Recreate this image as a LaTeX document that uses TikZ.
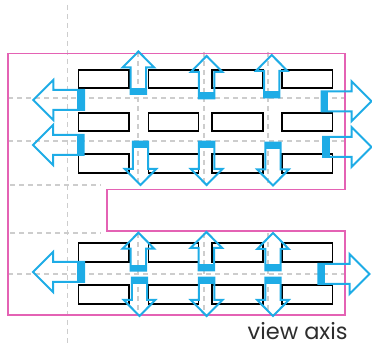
\documentclass[tikz,border=0pt]{standalone}
\usepackage{fontspec}
\setmainfont{Poppins}
\definecolor{arrblue}{RGB}{30,172,230}
\definecolor{pinkln}{RGB}{228,98,180}
\definecolor{gridgray}{RGB}{205,205,205}
\definecolor{txtgray}{RGB}{45,45,45}
\tikzset{
  gridln/.style={draw=gridgray,line width=1.2pt,dash pattern=on 5pt off 4pt},
  blockbox/.style={draw=black,line width=1.8pt},
  outline/.style={draw=pinkln,line width=1.4pt},
  arr/.style={draw=arrblue,line width=2pt,line join=miter},
  arrbar/.style={fill=arrblue},
}
% vertical block arrow: cx, base y, tip y, dir (+1 down, -1 up)
\newcommand{\myVarrow}[4]{%
  \draw[arr] ({#1-7.7},#2) -- ({#1-7.7},{#3-(#4)*16}) -- ({#1-15.8},{#3-(#4)*16}) -- (#1,#3)
    -- ({#1+15.8},{#3-(#4)*16}) -- ({#1+7.7},{#3-(#4)*16}) -- ({#1+7.7},#2) -- cycle;
  \fill[arrbar] ({#1-7.7},#2) rectangle ({#1+7.7},{#2+(#4)*6});
}
% horizontal block arrow: cy, base x, tip x, dir (+1 right, -1 left)
\newcommand{\myHarrow}[4]{%
  \draw[arr] (#2,{#1-10}) -- ({#3-(#4)*20},{#1-10}) -- ({#3-(#4)*20},{#1-20}) -- (#3,#1)
    -- ({#3-(#4)*20},{#1+20}) -- ({#3-(#4)*20},{#1+10}) -- (#2,{#1+10}) -- cycle;
  \fill[arrbar] (#2,{#1-10}) rectangle ({#2+(#4)*6.7},{#1+10});
}
\begin{document}
\begin{tikzpicture}[x=1pt,y=-1pt]
\useasboundingbox (0,0) rectangle (372,344);
% grid lines
\draw[gridln] (67.5,5) -- (67.5,344);
\foreach \gx in {138,204,268}{
  \draw[gridln] (\gx,52) -- (\gx,186);
  \draw[gridln] (\gx,233) -- (\gx,316);
}
\draw[gridln] (8,98) -- (345,98);
\draw[gridln] (8,141) -- (345,141);
\draw[gridln] (8,274) -- (345,274);
\draw[gridln] (10,185) -- (101,185);
\draw[gridln] (10,233) -- (101,233);
% blocks
\foreach \ya/\yb in {70/88.3,112.7/131,154/172.7,243/261.7,285/304}{
  \foreach \xa/\xb in {78.5/129,148.5/198.5,212/263,282/332.5}{
    \draw[blockbox] (\xa,\ya) rectangle (\xb,\yb);
  }
}
% outline
\draw[outline] (8,53.5) -- (345,53.5) -- (345,189.5) -- (107,189.5) -- (107,231) -- (345,231)
  -- (345,315) -- (8,315) -- cycle;
% top group vertical arrows
\myVarrow{138.4}{94}{51.5}{-1}
\myVarrow{206.6}{98.5}{56}{-1}
\myVarrow{271.7}{97.5}{55}{-1}
\myVarrow{140.5}{141.7}{185}{1}
\myVarrow{206.6}{141.7}{185}{1}
\myVarrow{273}{142.7}{185.5}{1}
% lower group vertical arrows
\myVarrow{138.4}{270.7}{232.7}{-1}
\myVarrow{206.4}{270.5}{232}{-1}
\myVarrow{273}{270.5}{233}{-1}
\myVarrow{139.5}{277.7}{316}{1}
\myVarrow{206.6}{277.7}{316}{1}
\myVarrow{273}{277.7}{316}{1}
% horizontal arrows
\myHarrow{100}{84}{33.3}{-1}
\myHarrow{145}{83.5}{33}{-1}
\myHarrow{272}{84}{33}{-1}
\myHarrow{101.3}{321.7}{371.5}{1}
\myHarrow{147}{323}{371.5}{1}
\myHarrow{274}{318.3}{369.5}{1}
% label
\node[anchor=base west,inner sep=0pt,text depth=0pt,text=txtgray,font=\fontsize{22.5}{25}\selectfont] (lbl) at (247.5,339.5) {view axis};
\end{tikzpicture}
\end{document}
